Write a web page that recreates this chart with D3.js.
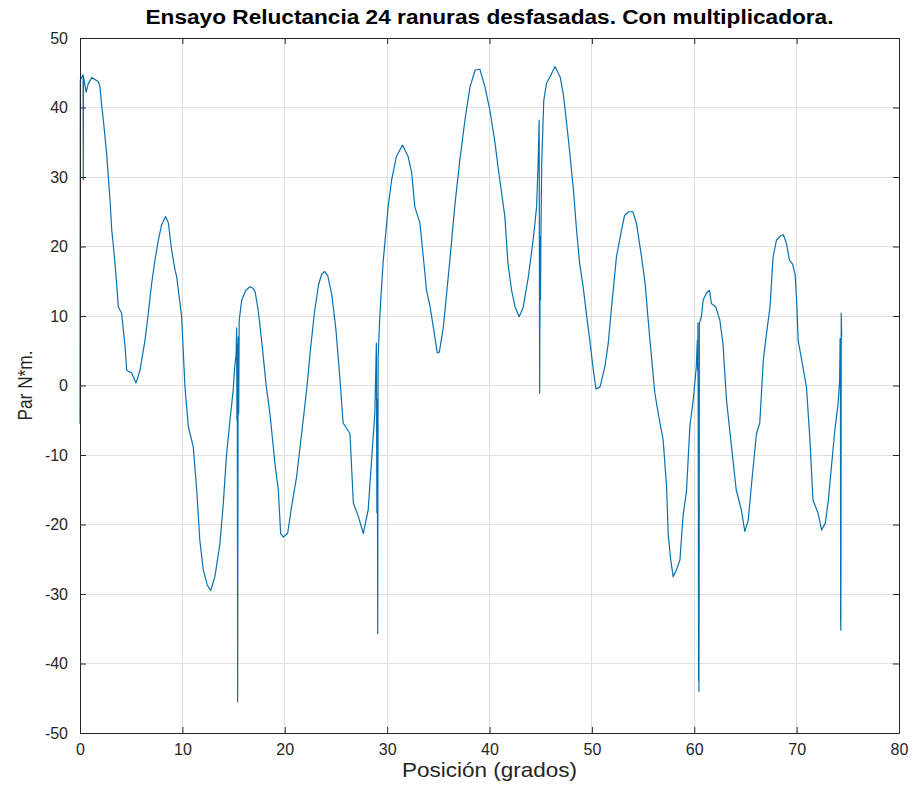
<!DOCTYPE html>
<html>
<head>
<meta charset="utf-8">
<script src="https://cdn.jsdelivr.net/npm/d3@7"></script>
<style>
  html, body { margin: 0; padding: 0; background: #fff; }
  svg text { font-family: "Liberation Sans", Arial, Helvetica, sans-serif; }
</style>
</head>
<body>
<svg id="chart" width="912" height="801"></svg>
<script>
// Torque measurement vs rotor position (degrees)
const posicion = [
  0, 0.03, 0.3, 0.32, 0.34, 0.45, 0.6, 0.8, 1.15, 1.5, 1.8, 1.95, 2.1, 2.28, 2.6, 2.93, 3.1, 3.3, 3.58, 3.74,
  4.07, 4.4, 4.56, 5.05, 5.47, 5.86, 6.35, 6.67, 7.0, 7.32, 7.65, 7.97, 8.36, 8.63, 8.95, 9.28, 9.44, 9.93,
  10.25, 10.58, 11.06, 11.4, 11.7, 12.04, 12.43, 12.76, 13.18, 13.67, 14.0, 14.3, 14.65, 14.97, 15.1, 15.25,
  15.3, 15.33, 15.36, 15.4, 15.45, 15.5, 15.55, 15.8, 16.2, 16.6, 16.9, 17.1, 17.4, 17.74, 18.2, 18.55,
  19.04, 19.37, 19.6, 19.85, 20.28, 20.67, 21.16, 21.65, 22.14, 22.5, 22.9, 23.3, 23.6, 23.9, 24.2, 24.6,
  25.0, 25.4, 25.7, 26.37, 26.7, 27.2, 27.67, 28.15, 28.57, 28.8, 28.95, 29.0, 29.04, 29.08, 29.12, 29.3,
  29.6, 30.1, 30.44, 30.9, 31.5, 32.06, 32.4, 32.7, 33.2, 33.5, 33.85, 34.2, 34.5, 34.9, 35.1, 35.5, 36.1,
  36.6, 37.1, 37.6, 38.1, 38.6, 39.06, 39.55, 40.04, 40.5, 41.0, 41.5, 41.8, 42.16, 42.5, 42.9, 43.3, 43.8,
  44.3, 44.6, 44.75, 44.85, 44.9, 44.95, 44.98, 45.02, 45.1, 45.3, 45.57, 45.9, 46.4, 46.9, 47.2, 47.5,
  47.85, 48.2, 48.5, 48.8, 49.15, 49.5, 49.8, 50.1, 50.4, 50.8, 51.27, 51.6, 51.9, 52.4, 52.9, 53.2, 53.6,
  54.0, 54.36, 54.85, 55.2, 55.5, 55.7, 56.15, 56.6, 56.96, 57.3, 57.45, 57.7, 57.94, 58.27, 58.6, 58.9,
  59.25, 59.57, 59.9, 60.2, 60.3, 60.33, 60.36, 60.4, 60.42, 60.44, 60.46, 60.48, 60.5, 60.7, 60.87, 61.2,
  61.5, 61.67, 62.1, 62.5, 62.8, 63.15, 63.6, 64.1, 64.6, 64.94, 65.27, 65.6, 66.08, 66.4, 66.75, 67.06,
  67.4, 67.7, 68.03, 68.4, 68.7, 69.0, 69.3, 69.6, 69.85, 70.0, 70.15, 70.96, 71.3, 71.6, 72.1, 72.44,
  72.8, 73.1, 73.4, 73.7, 74.05, 74.2, 74.25, 74.28, 74.3, 74.32, 74.36, 74.4
];
const par = [
  -5.5, 44, 44.7, 29.6, 44.5, 43.5, 42.2, 43.4, 44.3, 44.0, 43.7, 43.0, 40.5, 38.2, 33.4, 26.7, 22.4, 19.5, 14.7, 11.3,
  10.4, 5.6, 2.2, 1.8, 0.35, 2.2, 6.5, 10.4, 14.7, 18.0, 20.9, 23.1, 24.3, 23.4, 19.5, 16.6, 15.7, 9.9,
  -0.2, -5.9, -8.8, -15, -22.2, -26.5, -28.7, -29.5, -27.5, -22.7, -16.9, -10.2, -5, -0.6, 2.5, 4.5,
  8.3, -5, 6, -45.5, 7, -4, 9.4, 12.3, 13.7, 14.2, 14.0, 13.5, 10.9, 6.5, -0.2, -4,
  -11.2, -15, -21.3, -21.8, -21.3, -17.4, -13.1, -6.9, -0.6, 5, 10.5, 14.5, 16.0, 16.4, 15.8, 13,
  8, 0.8, -5.4, -6.9, -16.9, -18.9, -21.3, -17.9, -8.8, -4, 6.1, -18.3, -2, -35.7, 4.1, 10.4,
  17.6, 25.7, 29.6, 32.9, 34.6, 32.9, 30.6, 25.7, 23.4, 19, 13.7, 11.3, 8.5, 4.7, 4.8, 8.5, 17.6,
  25.7, 32.4, 38.2, 43, 45.4, 45.5, 43, 39.6, 35.3, 29.6, 24.3, 17.6, 13.7, 11.3, 9.9, 11.3, 15.7,
  21.4, 25.7, 32, 38.2, -1.1, 21.4, 12.3, 21, 32, 41, 43.5, 44.4, 45.9, 44.4, 42, 38.2,
  33.4, 28.1, 22.4, 17.6, 14.2, 9.9, 6.5, 2.7, -0.5, -0.2, 2.7, 6.1, 10.9, 18.5, 22.4, 24.5, 25.0,
  25.0, 23.3, 18.5, 14.7, 9.4, 6.1, -1.1, -5, -7.8, -14.6, -21.3, -25.1, -27.5, -26.5, -25.1, -18.9,
  -15, -5.9, -2.1, 2.7, 6.5, 2.2, 9, -12.6, -42.4, -12.6, -44, -30, 9, 9.9, 12.3, 13.3,
  13.7, 11.8, 11.3, 9.4, 6.1, -2.1, -8.3, -15, -17.9, -21, -19.4, -14.1, -6.9, -5.4, 3.7, 7.5,
  11.3, 18.5, 20.9, 21.5, 21.7, 20.5, 18, 17.5, 16, 12.3, 6.5, -0.2, -7.8, -16.5, -18.4, -20.8,
  -19.8, -16.5, -11.7, -6.9, -2.6, 0.8, 6.8, 0.8, -33.7, -35.2, 10.4, 7
];
const xTicks = [0, 10, 20, 30, 40, 50, 60, 70, 80];
const yTicks = [-50, -40, -30, -20, -10, 0, 10, 20, 30, 40, 50];

const titulo = "Ensayo Reluctancia 24 ranuras desfasadas. Con multiplicadora.";
const etiquetaX = "Posición (grados)";
const etiquetaY = "Par N*m.";

const W = 912, H = 801;
const m = { left: 80, right: 13, top: 38, bottom: 68 };
const iw = W - m.left - m.right, ih = H - m.top - m.bottom;

const svg = d3.select("#chart");
svg.append("rect").attr("width", W).attr("height", H).attr("fill", "#fff");

const x = d3.scaleLinear().domain([0, 80]).range([m.left, m.left + iw]);
const y = d3.scaleLinear().domain([-50, 50]).range([m.top + ih, m.top]);

const axisColor = "#262626";
const gridColor = "#e0e0e0";
const fmt = d => String(d);

// grid
const g = svg.append("g");
g.selectAll(".gx").data(xTicks).join("line")
  .attr("x1", d => x(d)).attr("x2", d => x(d))
  .attr("y1", m.top).attr("y2", m.top + ih)
  .attr("stroke", gridColor).attr("stroke-width", 1).attr("shape-rendering", "crispEdges");
g.selectAll(".gy").data(yTicks).join("line")
  .attr("x1", m.left).attr("x2", m.left + iw)
  .attr("y1", d => y(d)).attr("y2", d => y(d))
  .attr("stroke", gridColor).attr("stroke-width", 1).attr("shape-rendering", "crispEdges");

// data line
const pts = posicion.map((p, i) => [p, par[i]]);
const line = d3.line().x(d => x(d[0])).y(d => y(d[1]));
svg.append("path").datum(pts)
  .attr("d", line)
  .attr("fill", "none")
  .attr("stroke", "#0a70b0")
  .attr("stroke-width", 1.2)
  .attr("stroke-linejoin", "round");

// axes (box with inward ticks on all four sides)
const tl = 6;
const styleAxis = sel => {
  sel.select(".domain").attr("stroke", axisColor).attr("stroke-width", 1);
  sel.selectAll(".tick line").attr("stroke", axisColor);
  sel.selectAll(".tick text").attr("fill", axisColor).attr("font-size", 16);
};
svg.append("g").attr("transform", `translate(0,${m.top + ih})`)
  .call(d3.axisBottom(x).tickValues(xTicks).tickFormat(fmt).tickSizeInner(-tl).tickSizeOuter(0).tickPadding(11))
  .call(styleAxis);
svg.append("g").attr("transform", `translate(0,${m.top})`)
  .call(d3.axisTop(x).tickValues(xTicks).tickSizeInner(-tl).tickSizeOuter(0).tickFormat(""))
  .call(styleAxis);
svg.append("g").attr("transform", `translate(${m.left},0)`)
  .call(d3.axisLeft(y).tickValues(yTicks).tickFormat(fmt).tickSizeInner(-tl).tickSizeOuter(0).tickPadding(12))
  .call(styleAxis);
svg.append("g").attr("transform", `translate(${m.left + iw},0)`)
  .call(d3.axisRight(y).tickValues(yTicks).tickSizeInner(-tl).tickSizeOuter(0).tickFormat(""))
  .call(styleAxis);

// title and labels
svg.append("text").attr("x", m.left + iw / 2).attr("y", 24)
  .attr("text-anchor", "middle").attr("font-size", 20).attr("font-weight", "bold")
  .attr("textLength", 688).attr("lengthAdjust", "spacingAndGlyphs")
  .attr("fill", "#000").text(titulo);
svg.append("text").attr("x", m.left + iw / 2).attr("y", 777)
  .attr("text-anchor", "middle").attr("font-size", 21)
  .attr("textLength", 175).attr("lengthAdjust", "spacingAndGlyphs")
  .attr("fill", axisColor).text(etiquetaX);
svg.append("text").attr("transform", `translate(32,${m.top + ih / 2}) rotate(-90)`)
  .attr("text-anchor", "middle").attr("font-size", 20)
  .attr("textLength", 70).attr("lengthAdjust", "spacingAndGlyphs")
  .attr("fill", axisColor).text(etiquetaY);
</script>
</body>
</html>
